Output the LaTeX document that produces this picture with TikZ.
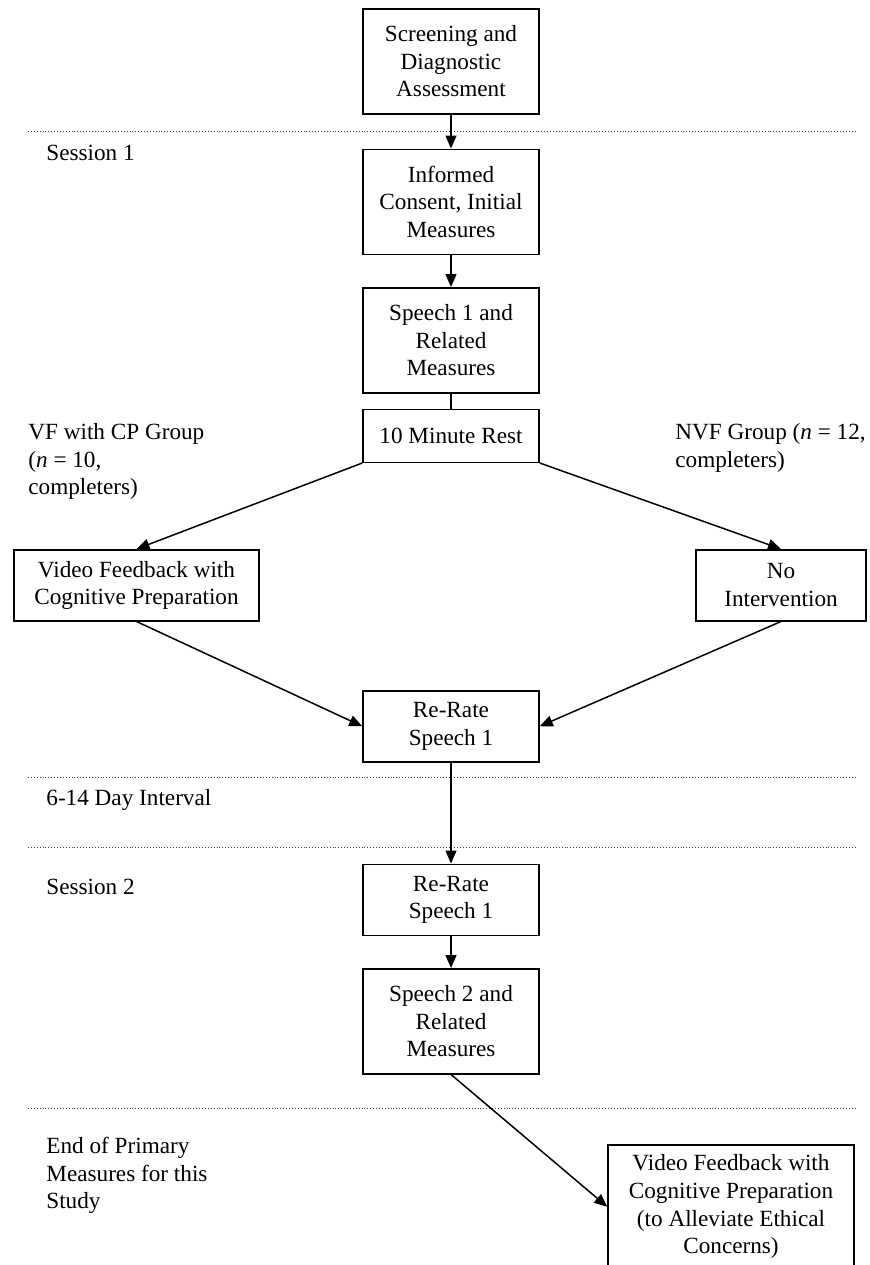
\documentclass[tikz,border=0pt]{standalone}
\usepackage{fontspec}
\setmainfont{Liberation Serif}
\usetikzlibrary{arrows.meta,positioning}

\begin{document}
\begin{tikzpicture}[x=0.5pt, y=-0.5pt, node distance=17pt, font=\fontsize{11.6pt}{13.8pt}\selectfont]
    % Styles
    \tikzstyle{stepbox} = [rectangle, draw, line width=0.75pt, align=center, minimum width=88pt, inner sep=1pt]
    \tikzstyle{box_tall} = [minimum height=52.5pt]
    \tikzstyle{box_mid} = [minimum height=35.5pt]
    \tikzstyle{box_short} = [minimum height=26.5pt]
    \tikzstyle{arrow} = [-{Triangle[length=6.5pt, width=5.5pt]}, line width=0.75pt]
    \tikzstyle{plain} = [line width=0.75pt]
    \tikzstyle{phase} = [densely dotted, line width=0.45pt, black!75]
    \tikzstyle{phase_label} = [anchor=north west, align=left, inner sep=0pt]

    % Page frame
    \useasboundingbox (0,0) rectangle (869,1265);
    \clip (0,0) rectangle (869,1265);

    % Phase separators
    \foreach \y in {131, 777, 847, 1108}
        \draw [phase] (28,\y) -- (855,\y);

    % Main column
    \node [stepbox, box_tall, anchor=north] (screen) at (451,8) {Screening and\\Diagnostic\\Assessment};
    \node [stepbox, box_tall, below=17pt of screen] (consent) {Informed\\Consent, Initial\\Measures};
    \node [stepbox, box_tall, below=16pt of consent] (speech1) {Speech 1 and\\Related\\Measures};
    \node [stepbox, box_short, below=7.5pt of speech1] (rest) {10 Minute Rest};

    % Groups
    \node [stepbox, box_mid, minimum width=122.5pt, anchor=north] (vfcp) at (136.5,549) {Video Feedback with\\Cognitive Preparation};
    \node [stepbox, box_mid, minimum width=85pt, anchor=north] (noint) at (781,549) {No\\Intervention};

    % Re-rating and session 2
    \node [stepbox, box_mid, anchor=north] (rerate1) at (451,690) {Re-Rate\\Speech 1};
    \node [stepbox, box_mid, below=50.5pt of rerate1] (rerate2) {Re-Rate\\Speech 1};
    \node [stepbox, box_tall, below=16pt of rerate2] (speech2) {Speech 2 and\\Related\\Measures};
    \node [stepbox, minimum width=123pt, minimum height=62pt, anchor=north] (ethics) at (731,1144) {Video Feedback with\\Cognitive Preparation\\(to Alleviate Ethical\\Concerns)};

    % Labels
    \node [phase_label, anchor=west] (sess1) at (46,153) {Session 1};
    \node [phase_label] (vflabel) at (28,423) {VF with CP Group\\(\textit{n} = 10,\\completers)};
    \node [phase_label] (nvflabel) at (675,423) {NVF Group (\textit{n} = 12,\\completers)};
    \node [phase_label, anchor=west] (interval) at (46,800) {6-14 Day Interval};
    \node [phase_label, anchor=west] (sess2) at (46,887) {Session 2};
    \node [phase_label] (endlabel) at (46,1137) {End of Primary\\Measures for this\\Study};

    % Connections
    \draw [arrow] (screen) -- (consent);
    \draw [arrow] (consent) -- (speech1);
    \draw [plain] (speech1) -- (rest);
    \draw [arrow] (rest.south west) -- (vfcp.north);
    \draw [arrow] (rest.south east) -- (noint.north);
    \draw [arrow] (vfcp.south) -- (rerate1.west);
    \draw [arrow] (noint.south) -- (rerate1.east);
    \draw [arrow] (rerate1) -- (rerate2);
    \draw [arrow] (rerate2) -- (speech2);
    \draw [arrow] (speech2.south) -- (ethics.west);

\end{tikzpicture}
\end{document}
